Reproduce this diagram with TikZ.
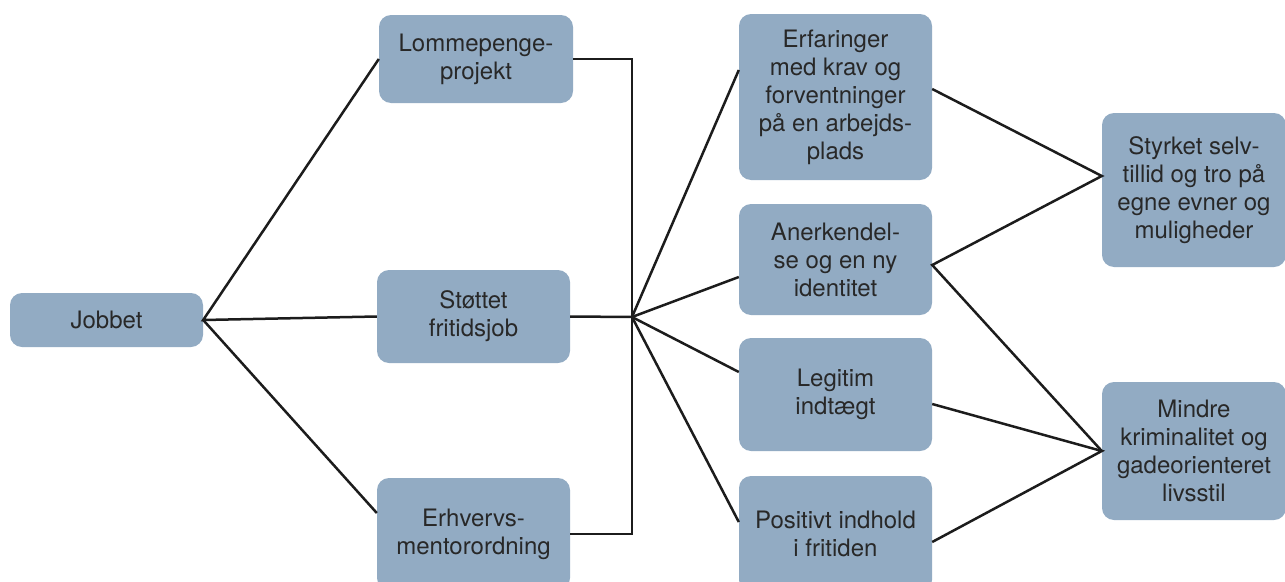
\documentclass[tikz,border=0pt]{standalone}
\usepackage{fontspec}
\setmainfont{TeX Gyre Heros}
\definecolor{boxfill}{RGB}{146,171,195}
\definecolor{txt}{RGB}{40,40,40}
\definecolor{ln}{RGB}{28,28,28}
\begin{document}
\begin{tikzpicture}[x=1pt,y=-1pt,
  box/.style={rectangle, rounded corners=12pt, fill=boxfill, inner sep=0pt,
    align=center, text=txt, font=\fontsize{24}{28}\selectfont},
  conn/.style={draw=ln, line width=2.5pt, line join=miter}]
\useasboundingbox (0,0) rectangle (1285,581);
\node[box, minimum width=193pt, minimum height=54pt] (jobbet) at (106.5,320) {Jobbet};
\node[box, minimum width=194pt, minimum height=88pt] (lomme) at (476,59) {Lommepenge-\\projekt};
\node[box, minimum width=193pt, minimum height=93pt] (stottet) at (473.5,316.5) {Støttet\\fritidsjob};
\node[box, minimum width=193pt, minimum height=112pt] (erhv) at (473.5,534) {Erhvervs-\\mentorordning};
\node[box, minimum width=193pt, minimum height=166pt] (erf) at (835.5,97) {Erfaringer\\med krav og\\forventninger\\på en arbejds-\\plads};
\node[box, minimum width=193pt, minimum height=111pt] (aner) at (835.5,259.5) {Anerkendel-\\se og en ny\\identitet};
\node[box, minimum width=193pt, minimum height=113pt] (legit) at (835.5,394.5) {Legitim\\indtægt};
\node[box, minimum width=193pt, minimum height=116pt] (posit) at (835.5,534) {Positivt indhold\\i fritiden};
\node[box, minimum width=184pt, minimum height=154pt] (styrk) at (1194,190) {Styrket selv-\\tillid og tro på\\egne evner og\\muligheder};
\node[box, minimum width=184pt, minimum height=138pt] (mindre) at (1194,451) {Mindre\\kriminalitet og\\gadeorienteret\\livsstil};
\coordinate (hub) at (632,317);
% Jobbet to programmes
\draw[conn] (lomme.west) -- (jobbet.east) -- (stottet.west);
\draw[conn] (jobbet.east) -- ([yshift=21pt]erhv.west);
% bracket
\draw[conn] (lomme.east) -- (hub |- lomme.east) -- (hub |- erhv.east) -- (erhv.east);
\draw[conn] (stottet.east) -- (hub);
% hub to outcomes
\draw[conn] (hub) -- ([yshift=27pt]erf.west);
\draw[conn] (hub) -- ([yshift=-17.5pt]aner.west);
\draw[conn] (hub) -- ([yshift=22.5pt]legit.west);
\draw[conn] (hub) -- ([yshift=12pt]posit.west);
% to effects
\draw[conn] ([yshift=8pt]erf.east) -- ([yshift=14pt]styrk.west) -- ([yshift=-5.5pt]aner.east) -- (mindre.west);
\draw[conn] ([yshift=-9.5pt]legit.east) -- (mindre.west) -- ([yshift=-8pt]posit.east);
\end{tikzpicture}
\end{document}
